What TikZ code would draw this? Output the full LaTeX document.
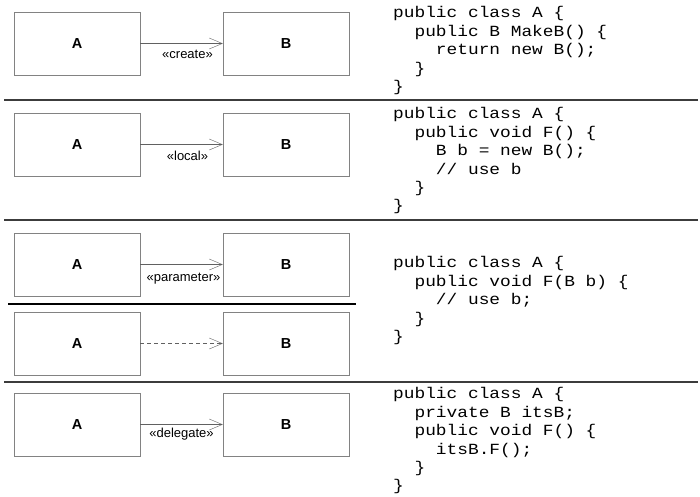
\documentclass[tikz,border=0pt]{standalone}
\usepackage{fontspec}
\setmainfont{Liberation Sans}
\newfontfamily\codefont{Liberation Mono}[FakeStretch=1.15]
\usepackage{xcolor}
\usetikzlibrary{positioning,arrows.meta}
\definecolor{boxcolor}{RGB}{130,130,130}
\definecolor{rulecolor}{RGB}{60,60,60}
\tikzset{
  classbox/.style={draw=boxcolor, minimum width=126pt, minimum height=63pt, inner sep=0pt, font=\fontsize{14.5}{16}\selectfont\bfseries},
  dep/.style={draw=boxcolor!75!black, -{Straight Barb[length=13pt,width=11pt]}},
  stereo/.style={below, yshift=-3pt, font=\fontsize{13}{15}\selectfont},
  code/.style={anchor=north west, inner sep=0pt, align=left, font=\codefont\fontsize{15.5}{18.4}\selectfont},
  sep/.style={draw=rulecolor, line width=1.2pt}
}

\begin{document}
\begin{tikzpicture}[x=1pt, y=-1pt]
    \useasboundingbox (0,0) rectangle (700,496);

    % create
    \node [classbox] (A1) at (77,43.5) {A};
    \node [classbox] (B1) at (286,43.5) {B};
    \draw [dep] (A1) -- (B1) node [stereo, midway, xshift=6pt] {«create»};
    \node [code] (code1) at (393,6.5) {public class A \{\\~~public B MakeB() \{\\~~~~return new B();\\~~\}\\\}};
    \draw [sep] (4,100) -- (698,100);

    % local
    \node [classbox] (A2) at (77,144.5) {A};
    \node [classbox] (B2) at (286,144.5) {B};
    \draw [dep] (A2) -- (B2) node [stereo, midway, xshift=6pt] {«local»};
    \node [code] (code2) at (393,107.5) {public class A \{\\~~public void F() \{\\~~~~B b = new B();\\~~~~// use b\\~~\}\\\}};
    \draw [sep] (4,220) -- (698,220);

    % parameter
    \node [classbox] (A3) at (77,264.5) {A};
    \node [classbox] (B3) at (286,264.5) {B};
    \draw [dep] (A3) -- (B3) node [stereo, midway, xshift=2pt, yshift=-2pt] {«parameter»};
    \draw [black, line width=1.3pt] (8,304) -- (356,304);
    \node [classbox] (A4) at (77,343.5) {A};
    \node [classbox] (B4) at (286,343.5) {B};
    \draw [dep, dash pattern=on 4pt off 3pt] (A4) -- (B4);
    \node [code] (code3) at (393,256.5) {public class A \{\\~~public void F(B b) \{\\~~~~// use b;\\~~\}\\\}};
    \draw [sep] (4,382) -- (698,382);

    % delegate
    \node [classbox] (A5) at (77,424.5) {A};
    \node [classbox] (B5) at (286,424.5) {B};
    \draw [dep] (A5) -- (B5) node [stereo, midway, yshift=3pt] {«delegate»};
    \node [code] (code4) at (393,387.5) {public class A \{\\~~private B itsB;\\~~public void F() \{\\~~~~itsB.F();\\~~\}\\\}};
\end{tikzpicture}
\end{document}
